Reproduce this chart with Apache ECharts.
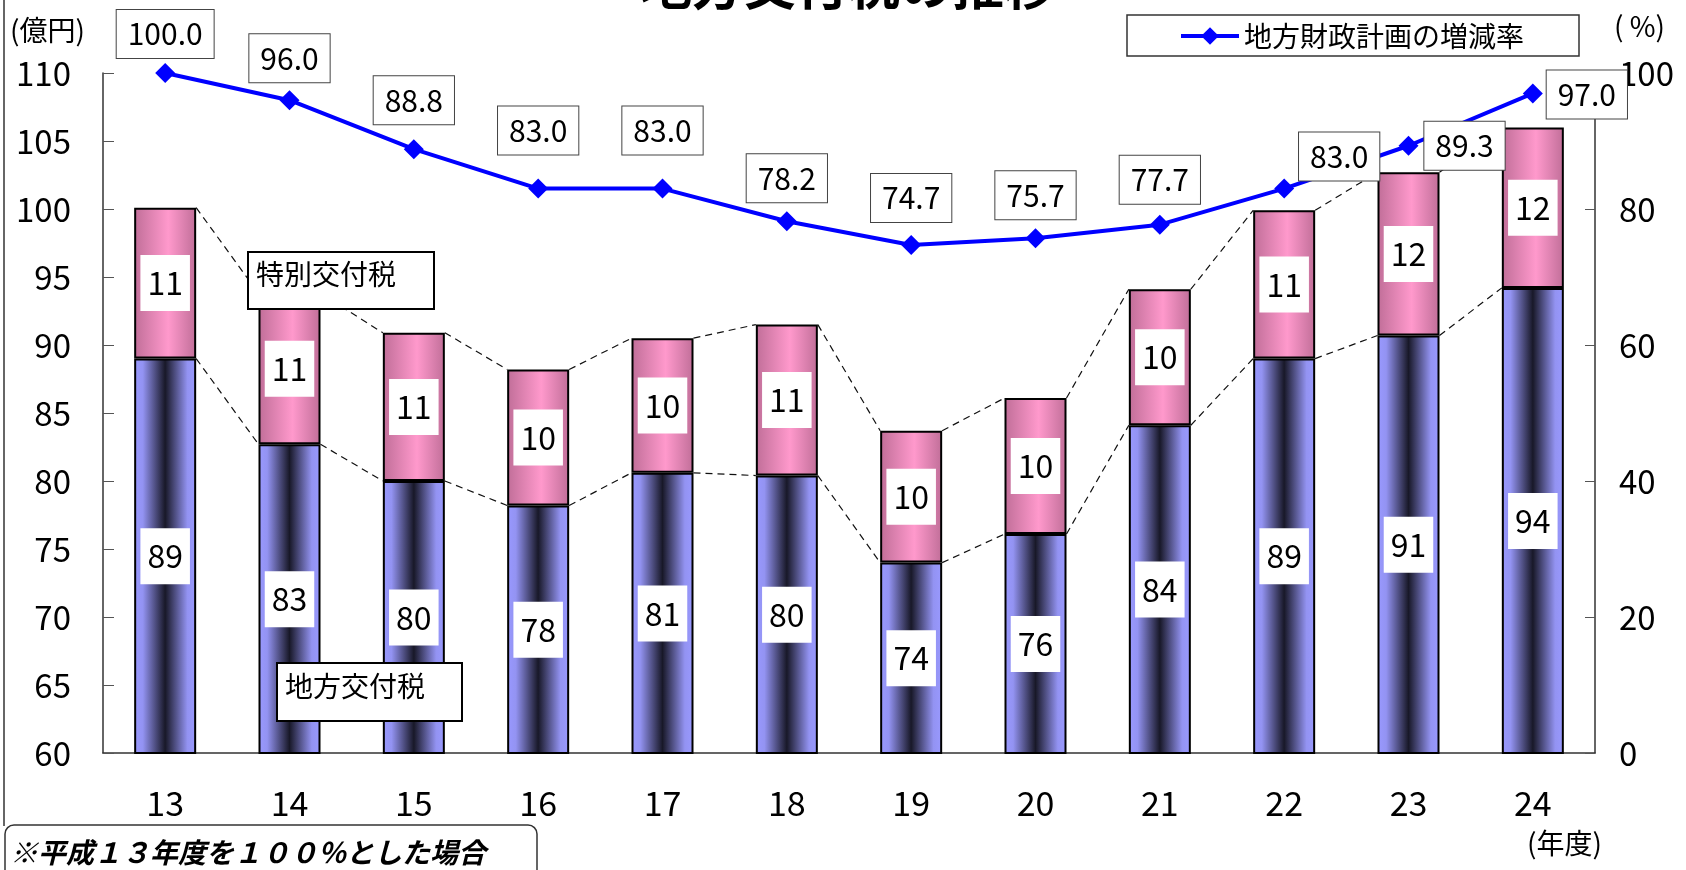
<!DOCTYPE html>
<html>
<head>
<meta charset="utf-8">
<script src="https://cdn.jsdelivr.net/npm/echarts@6/dist/echarts.min.js"></script>
<style>
  html, body { margin: 0; padding: 0; background: #fff; }
  #main { width: 1686px; height: 870px; }
</style>
</head>
<body>
<div id="main"></div>
<script>
// 年度 (平成)
const years = ['13', '14', '15', '16', '17', '18', '19', '20', '21', '22', '23', '24'];
// 地方交付税 (億円)
const localTax = [89.0, 82.7, 80.0, 78.2, 80.6, 80.4, 74.0, 76.1, 84.1, 89.0, 90.7, 94.2];
// 特別交付税 (億円)
const specialTax = [11.1, 11.1, 10.9, 10.0, 9.9, 11.1, 9.7, 10.0, 10.0, 10.9, 12.0, 11.8];
// 地方財政計画の増減率 (%)
const planRate = [100.0, 96.0, 88.8, 83.0, 83.0, 78.2, 74.7, 75.7, 77.7, 83.0, 89.3, 97.0];
// axis ranges: [min, max, interval]
const leftAxis = [60, 110, 5];
const rightAxis = [0, 100, 20];

// label nudges for the rate labels (style only)
const rateLabelOffsets = [[0, 0], [0, -3], [0, -10], [0, -19], [0, -19], [0, -4], [0, -8], [0, -4], [0, -6], [55, 7], [56, 39], [54, 40]];

const NUM_FONT = "'Noto Sans CJK JP', sans-serif";
const JP_FONT = "'Noto Sans CJK JP', sans-serif";
const BAR_WIDTH = 62;

const chart = echarts.init(document.getElementById('main'));

const blueFill = new echarts.graphic.LinearGradient(0, 0, 1, 0, [
  { offset: 0, color: '#9999FF' },
  { offset: 0.14, color: '#9393F2' },
  { offset: 0.5, color: '#181828' },
  { offset: 0.86, color: '#9393F2' },
  { offset: 1, color: '#9999FF' }
]);
const pinkFill = new echarts.graphic.LinearGradient(0, 0, 1, 0, [
  { offset: 0, color: '#C06E98' },
  { offset: 0.55, color: '#FF99CC' },
  { offset: 1, color: '#C06E98' }
]);

const barLabel = {
  show: true,
  position: 'inside',
  formatter: p => Math.round(p.value),
  color: '#000',
  fontFamily: NUM_FONT,
  fontSize: 32,
  lineHeight: 36,
  backgroundColor: '#fff',
  padding: [10, 7]
};

// dashed connectors between neighbouring bar tops
const connectorData = years.slice(0, -1).map((_, i) => [
  i,
  localTax[i], localTax[i + 1],
  localTax[i] + specialTax[i], localTax[i + 1] + specialTax[i + 1]
]);

const option = {
  backgroundColor: '#fff',
  animation: false,
  grid: { left: 103, right: 91, top: 73, bottom: 117 },
  legend: {
    data: ['地方財政計画の増減率'],
    left: 1179,
    top: 22,
    padding: 0,
    itemWidth: 58,
    itemHeight: 22,
    itemGap: 8,
    lineStyle: { width: 4 },
    textStyle: { fontFamily: JP_FONT, fontSize: 28, color: '#000' }
  },
  xAxis: {
    type: 'category',
    data: years,
    axisLine: { lineStyle: { color: '#333', width: 1.5 } },
    axisTick: { inside: true, length: 11, lineStyle: { color: '#555' } },
    axisLabel: { fontFamily: NUM_FONT, fontSize: 34, color: '#000', margin: 33 }
  },
  yAxis: [
    {
      type: 'value',
      min: leftAxis[0], max: leftAxis[1], interval: leftAxis[2],
      splitLine: { show: false },
      axisLine: { show: true, lineStyle: { color: '#333', width: 1.5 } },
      axisTick: { show: true, inside: true, length: 11, lineStyle: { color: '#555' } },
      axisLabel: { fontFamily: NUM_FONT, fontSize: 33, color: '#000', margin: 32 }
    },
    {
      type: 'value',
      min: rightAxis[0], max: rightAxis[1], interval: rightAxis[2],
      splitLine: { show: false },
      axisLine: { show: true, lineStyle: { color: '#333', width: 1.5 } },
      axisTick: { show: true, inside: true, length: 10, lineStyle: { color: '#555' } },
      axisLabel: { fontFamily: NUM_FONT, fontSize: 33, color: '#000', margin: 24 }
    }
  ],
  series: [
    {
      name: '地方交付税',
      type: 'bar',
      stack: 'tax',
      barWidth: BAR_WIDTH,
      data: localTax,
      itemStyle: { color: blueFill, borderColor: '#000', borderWidth: 2 },
      label: barLabel,
      z: 2
    },
    {
      name: '特別交付税',
      type: 'bar',
      stack: 'tax',
      barWidth: BAR_WIDTH,
      data: specialTax,
      itemStyle: { color: pinkFill, borderColor: '#000', borderWidth: 2 },
      label: barLabel,
      z: 2
    },
    {
      type: 'custom',
      silent: true,
      data: connectorData,
      encode: { x: 0, y: [1, 2, 3, 4] },
      z: 1,
      renderItem: (params, api) => {
        const i = api.value(0);
        const half = BAR_WIDTH / 2;
        const b0 = api.coord([i, api.value(1)]);
        const b1 = api.coord([i + 1, api.value(2)]);
        const t0 = api.coord([i, api.value(3)]);
        const t1 = api.coord([i + 1, api.value(4)]);
        const st = { stroke: '#111', lineWidth: 1.2, lineDash: [7, 5] };
        return {
          type: 'group',
          children: [
            { type: 'line', shape: { x1: b0[0] + half, y1: b0[1], x2: b1[0] - half, y2: b1[1] }, style: st },
            { type: 'line', shape: { x1: t0[0] + half, y1: t0[1], x2: t1[0] - half, y2: t1[1] }, style: st }
          ]
        };
      }
    },
    {
      name: '地方財政計画の増減率',
      type: 'line',
      yAxisIndex: 1,
      data: planRate.map((v, i) => ({ value: v, label: { offset: rateLabelOffsets[i] } })),
      symbol: 'diamond',
      symbolSize: 20,
      lineStyle: { color: '#0000FF', width: 4 },
      itemStyle: { color: '#0000FF' },
      label: {
        show: true,
        position: 'top',
        distance: 5,
        formatter: p => p.value.toFixed(1),
        fontFamily: NUM_FONT,
        fontSize: 30,
        lineHeight: 30,
        color: '#000',
        backgroundColor: '#fff',
        borderColor: '#444',
        borderWidth: 1,
        padding: [9, 11]
      },
      z: 5
    }
  ],
  graphic: [
    // title (cut off at the top edge)
    { type: 'text', x: 848, y: 11, z: 10,
      style: { text: '地方交付税の推移', font: "bold 52px 'Noto Sans CJK JP'", fill: '#000', textAlign: 'center', textVerticalAlign: 'bottom' } },
    // left frame line
    { type: 'line', z: 10, shape: { x1: 4, y1: 0, x2: 4, y2: 826 }, style: { stroke: '#333', lineWidth: 1.5 } },
    // unit labels
    { type: 'text', x: 10, y: 30, z: 10,
      style: { text: '(億円)', font: "28px 'Noto Sans CJK JP'", fill: '#000', textVerticalAlign: 'middle' } },
    { type: 'text', x: 1614, y: 26, z: 10,
      style: { text: '( %)', font: "28px 'Noto Sans CJK JP'", fill: '#000', textVerticalAlign: 'middle' } },
    { type: 'text', x: 1527, y: 843, z: 10,
      style: { text: '(年度)', font: "28px 'Noto Sans CJK JP'", fill: '#000', textVerticalAlign: 'middle' } },
    // legend frame
    { type: 'rect', z: 0, shape: { x: 1127, y: 15, width: 452, height: 41 },
      style: { fill: '#fff', stroke: '#333', lineWidth: 1.5 } },
    // series callouts
    { type: 'rect', z: 20, shape: { x: 248, y: 252, width: 186, height: 57 },
      style: { fill: '#fff', stroke: '#000', lineWidth: 2 } },
    { type: 'text', z: 21, x: 256, y: 274,
      style: { text: '特別交付税', font: "28px 'Noto Sans CJK JP'", fill: '#000', textVerticalAlign: 'middle' } },
    { type: 'rect', z: 20, shape: { x: 277, y: 663, width: 185, height: 58 },
      style: { fill: '#fff', stroke: '#000', lineWidth: 2 } },
    { type: 'text', z: 21, x: 285, y: 686,
      style: { text: '地方交付税', font: "28px 'Noto Sans CJK JP'", fill: '#000', textVerticalAlign: 'middle' } },
    // footnote
    { type: 'rect', z: 20, shape: { x: 5, y: 825, width: 532, height: 60, r: 9 },
      style: { fill: '#fff', stroke: '#333', lineWidth: 1.5 } },
    { type: 'text', z: 21, x: 10, y: 852,
      style: { text: '※平成１３年度を１００％とした場合', font: "italic bold 28px 'Noto Sans CJK JP'", fill: '#000', textVerticalAlign: 'middle' } }
  ]
};

chart.setOption(option);
</script>
</body>
</html>
